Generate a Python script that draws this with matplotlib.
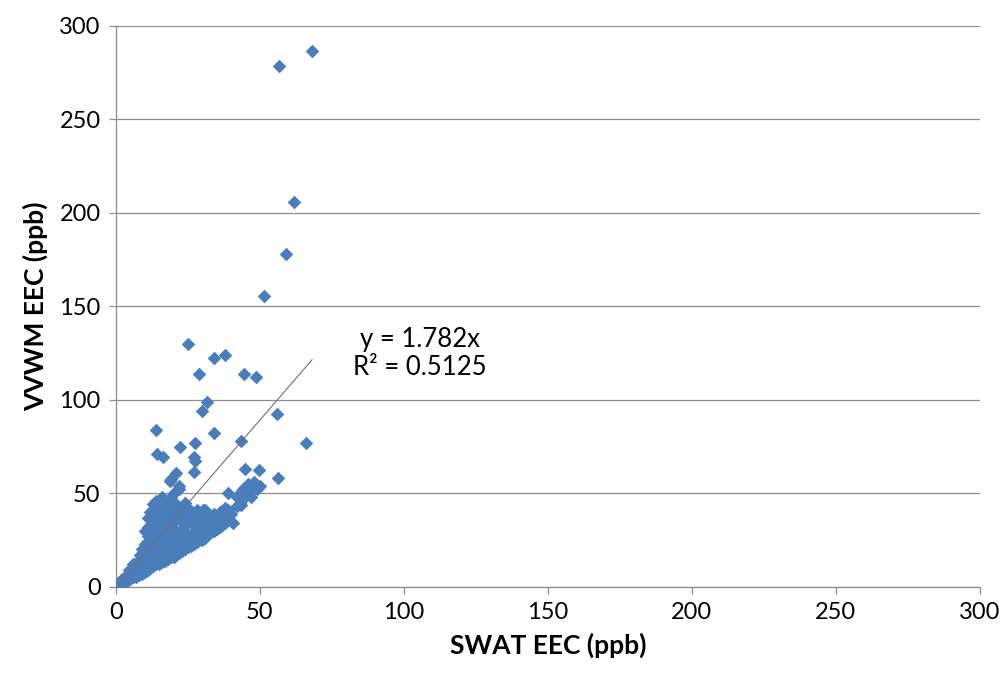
import matplotlib
matplotlib.use("Agg")
import matplotlib.pyplot as plt
import numpy as np

# Outlying points
out_x = [68.1, 56.7, 61.9, 59.0, 51.5, 25.2, 34.0, 37.9, 28.9, 44.4, 48.5, 31.8, 30.0,
         56.1, 13.9, 34.1, 22.4, 27.6, 43.6, 66.0, 14.3, 16.4, 27.1, 27.4, 27.1, 20.8,
         19.3, 44.8, 49.6, 56.4]
out_y = [286.3, 278.2, 205.9, 178.0, 155.4, 129.8, 122.3, 123.8, 113.8, 113.8, 112.2, 98.5, 94.0,
         92.3, 84.0, 82.2, 74.5, 76.8, 77.7, 77.1, 70.9, 69.6, 69.3, 67.0, 61.6, 60.7,
         57.7, 63.0, 62.5, 58.0]

# Dense cluster (estimated)
clu_x = [1, 1.5, 2, 2.5, 3, 2, 3, 1, 3.5,
         4, 4, 5, 5, 6, 6, 4.5, 5.5, 6,
         7, 7, 7, 7.5, 8, 8, 8, 8.5, 9, 9, 9, 9, 10, 10, 10, 10, 10,
         11, 11, 11, 11, 11, 11, 11,
         12, 12, 12, 12, 12, 12,
         13, 13, 13, 13, 13, 13, 13,
         14, 14, 14, 14, 14, 14, 14,
         15, 15, 15, 15, 15, 15, 15,
         16, 16, 16, 16, 16, 16, 16,
         17, 17, 17, 17, 17, 17,
         18, 18, 18, 18, 18, 18,
         19, 19, 19, 19, 19, 19,
         20, 20, 20, 20, 20, 20,
         21, 21, 21, 21, 21,
         22, 22, 22, 22, 22, 22,
         23, 23, 23, 23,
         24, 24, 24, 24, 24,
         25, 25, 25, 25,
         26, 26, 26, 26,
         27, 27, 27, 27,
         28, 28, 28, 28,
         29, 29, 29,
         30, 30, 30, 30,
         31, 31, 31, 31,
         32, 32, 32,
         33, 33, 33,
         34, 34, 34,
         35, 35, 35,
         36, 36, 36,
         37, 37,
         38, 38, 38,
         39, 39,
         40, 40, 40.6,
         42, 42, 43, 43, 44, 44, 45, 45, 46, 46, 47, 47, 48, 48, 49, 50,
         18.8, 22.0, 39.0, 47.7, 43.6, 30.3]
clu_y = [1, 2, 1.5, 3, 2, 4, 5, 2.5, 3,
         3, 6, 4, 8, 5, 7, 9, 10, 12,
         5, 8, 11, 14, 6, 9, 13, 17, 7, 10, 15, 20, 8, 12, 18, 23, 30,
         9, 13, 17, 22, 27, 32, 37,
         10, 15, 20, 25, 30, 40,
         11, 14, 18, 24, 28, 35, 44,
         12, 17, 21, 26, 31, 38, 46,
         12, 16, 20, 25, 30, 36, 42,
         13, 18, 23, 28, 34, 40, 48,
         14, 19, 24, 29, 35, 43,
         15, 20, 26, 31, 38, 45,
         16, 21, 27, 33, 40, 48,
         16, 22, 28, 35, 42, 50,
         17, 23, 30, 37, 44,
         18, 24, 29, 36, 41, 52,
         19, 25, 31, 38,
         20, 26, 33, 40, 45,
         21, 27, 34, 42,
         22, 28, 35, 38,
         23, 29, 33, 39,
         24, 30, 36, 41,
         25, 31, 35,
         25, 29, 34, 39,
         26, 31, 37, 41,
         28, 33, 36,
         29, 32, 38,
         30, 35, 39,
         31, 34, 37,
         32, 36, 40,
         33, 38,
         34, 37, 42,
         36, 41,
         35, 39, 34,
         43, 48, 45, 50, 47, 52, 49, 53, 50, 55, 51, 48, 53, 56, 52, 54,
         56.3, 54.0, 50.0, 53.6, 43.8, 41.0]

x = np.array(out_x + clu_x)
y = np.array(out_y + clu_y)

slope = 1.782
eq_text = "y = 1.782x\nR² = 0.5125"
xticks = [0, 50, 100, 150, 200, 250, 300]
yticks = [0, 50, 100, 150, 200, 250, 300]

plt.rcParams['font.family'] = ['Lato', 'DejaVu Sans']
fig = plt.figure(figsize=(10.08, 6.74), dpi=100)
ax = fig.add_axes([0.115, 0.1295, 0.857, 0.8325])

grid_c = '#8c8c8c'
ax.set_xlim(0, 300)
ax.set_ylim(0, 300)
ax.set_xticks(xticks)
ax.set_yticks(yticks)
ax.yaxis.grid(True, color=grid_c, linewidth=0.9)
ax.set_axisbelow(True)
for s in ['top', 'right']:
    ax.spines[s].set_visible(False)
for s in ['left', 'bottom']:
    ax.spines[s].set_color(grid_c)
    ax.spines[s].set_linewidth(0.9)
ax.tick_params(axis='both', direction='out', length=5, width=0.9, color=grid_c,
               labelsize=17, pad=6)

ax.scatter(x, y, marker='D', s=48, color='#4A7EBB', linewidths=0, zorder=3)

xl = np.array([x.min(), x.max()])
ax.plot(xl, slope * xl, color='#707070', linewidth=0.8, zorder=4)

ax.text(105.5, 124.5, eq_text, fontsize=18.5, ha='center', va='center',
        linespacing=1.15)

ax.set_xlabel("SWAT EEC (ppb)", fontsize=19, fontweight='bold', labelpad=7)
ax.set_ylabel("VVWM EEC (ppb)", fontsize=19, fontweight='bold', labelpad=8)

fig.savefig("out.png", dpi=100)
